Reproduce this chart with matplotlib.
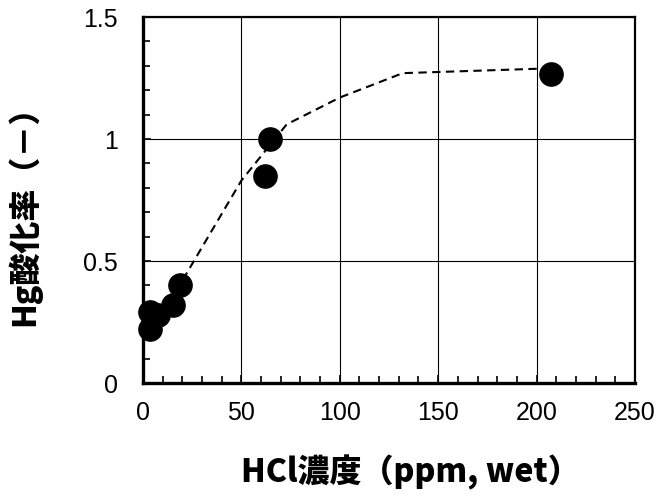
import matplotlib
matplotlib.use("Agg")
import matplotlib.pyplot as plt
from matplotlib.ticker import MultipleLocator

# Measured HCl concentration vs. Hg oxidation ratio
hcl_ppm = [3.6, 3.8, 7.7, 15.3, 18.8, 62.0, 64.5, 207.6]
hg_ox = [0.22, 0.29, 0.28, 0.32, 0.40, 0.85, 1.00, 1.265]

# Trend curve (dashed)
trend_x = [4, 20, 50, 73, 100, 132, 208]
trend_y = [0.24, 0.42, 0.83, 1.06, 1.17, 1.27, 1.29]

x_ticks = [0, 50, 100, 150, 200, 250]
y_ticks = [0, 0.5, 1, 1.5]
y_tick_labels = ["0", "0.5", "1", "1.5"]

fig = plt.figure(figsize=(6.6, 5.01), dpi=100)
ax = fig.add_axes([0.2167, 0.2355, 0.7453, 0.7305])

ax.set_xlim(0, 250)
ax.set_ylim(0, 1.5)

ax.grid(True, which="major", color="black", linewidth=0.8)
ax.set_axisbelow(True)

ax.plot(trend_x, trend_y, color="black", linestyle=(0, (4, 2.6)), linewidth=1.5, zorder=2)
ax.scatter(hcl_ppm, hg_ox, s=280, color="black", zorder=3, clip_on=False)

ax.set_xticks(x_ticks)
ax.set_yticks(y_ticks)
ax.set_yticklabels(y_tick_labels)
ax.xaxis.set_minor_locator(MultipleLocator(10))
ax.yaxis.set_minor_locator(MultipleLocator(0.1))
ax.tick_params(which="both", direction="in", top=False, right=False,
               labelsize=18, width=1.2, color="black")
ax.tick_params(which="minor", length=5)
ax.tick_params(axis="y", which="major", length=6, pad=18)
ax.tick_params(axis="x", which="major", length=6, pad=13)
for lab in ax.get_xticklabels() + ax.get_yticklabels():
    lab.set_fontfamily("Liberation Sans")

for side in ["left", "bottom"]:
    ax.spines[side].set_linewidth(2.4)
for side in ["top", "right"]:
    ax.spines[side].set_linewidth(1.6)

label_font = dict(family=["Noto Sans CJK JP", "DejaVu Sans"], weight="black", size=23)
fig.text(0.622, 0.058, "HCl濃度（ppm, wet）", ha="center", va="center", **label_font)
fig.text(0.036, 0.585, "Hg酸化率（－）", ha="center", va="center", rotation=90, **label_font)

fig.savefig("out.png", dpi=100)
